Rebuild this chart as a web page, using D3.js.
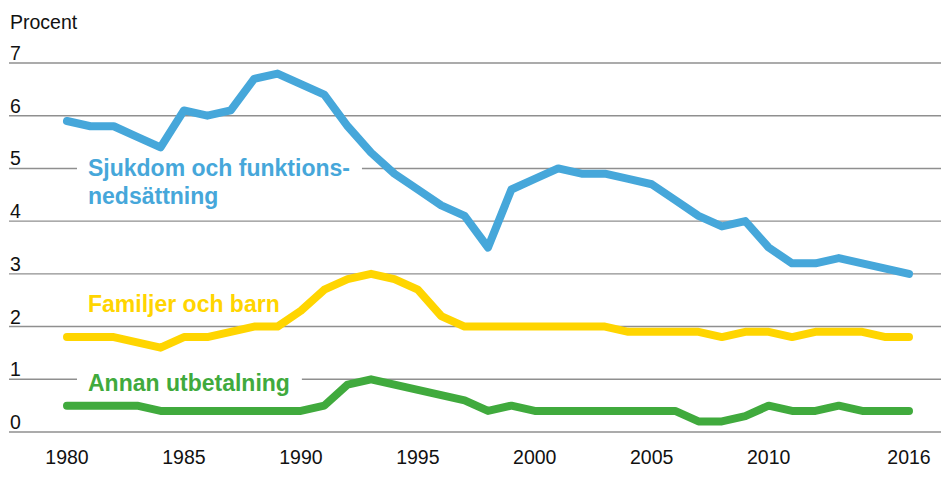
<!DOCTYPE html>
<html>
<head>
<meta charset="utf-8">
<script src="https://cdn.jsdelivr.net/npm/d3@7"></script>
<style>
  body { margin: 0; background: #fff; }
  svg text { font-family: "Liberation Sans", Arial, Helvetica, sans-serif; }
</style>
</head>
<body>
<div id="canvas"></div>
<script>
// Andel (procent) per år
let years = d3.range(1980, 2017);

let sjukdom = [5.9, 5.8, 5.8, 5.6, 5.4, 6.1, 6.0, 6.1, 6.7, 6.8,
  6.6, 6.4, 5.8, 5.3, 4.9, 4.6, 4.3, 4.1, 3.5, 4.6,
  4.8, 5.0, 4.9, 4.9, 4.8, 4.7, 4.4, 4.1, 3.9, 4.0,
  3.5, 3.2, 3.2, 3.3, 3.2, 3.1, 3.0];

let familjer = [1.8, 1.8, 1.8, 1.7, 1.6, 1.8, 1.8, 1.9, 2.0, 2.0,
  2.3, 2.7, 2.9, 3.0, 2.9, 2.7, 2.2, 2.0, 2.0, 2.0,
  2.0, 2.0, 2.0, 2.0, 1.9, 1.9, 1.9, 1.9, 1.8, 1.9,
  1.9, 1.8, 1.9, 1.9, 1.9, 1.8, 1.8];

let annan = [0.5, 0.5, 0.5, 0.5, 0.4, 0.4, 0.4, 0.4, 0.4, 0.4,
  0.4, 0.5, 0.9, 1.0, 0.9, 0.8, 0.7, 0.6, 0.4, 0.5,
  0.4, 0.4, 0.4, 0.4, 0.4, 0.4, 0.4, 0.2, 0.2, 0.3,
  0.5, 0.4, 0.4, 0.5, 0.4, 0.4, 0.4];

let yTicks = [0, 1, 2, 3, 4, 5, 6, 7];
let xTicks = [1980, 1985, 1990, 1995, 2000, 2005, 2010, 2016];

let series = [
  { name: ["Sjukdom och funktions-", "nedsättning"], values: sjukdom, color: "#46a7da", labelY: 176, gapTick: 5 },
  { name: ["Familjer och barn"], values: familjer, color: "#ffd500", labelY: 312, gapTick: null },
  { name: ["Annan utbetalning"], values: annan, color: "#40aa3d", labelY: 391, gapTick: 1 }
];

let width = 941, height = 484;

let svg = d3.select("#canvas")
  .append("svg")
  .attr("width", width)
  .attr("height", height);

let x = d3.scaleLinear().domain([1980, 2016]).range([67, 909]);
let y = d3.scaleLinear().domain([0, 7]).range([432, 63]);

// Labels first so the grid can leave gaps around them
let labels = svg.append("g").attr("class", "labels");
series.forEach(s => {
  let t = labels.append("text")
    .attr("x", 88)
    .attr("y", s.labelY)
    .attr("fill", s.color)
    .style("font-size", "23px")
    .style("font-weight", "bold");
  s.name.forEach((line, i) => {
    t.append("tspan").attr("x", 88).attr("dy", i === 0 ? 0 : 28).text(line);
  });
  s.box = t.node().getBBox();
});

// Grid lines
let grid = svg.insert("g", ".labels").attr("class", "grid");
yTicks.forEach(v => {
  let s = series.find(d => d.gapTick === v);
  let segs = [[9, width]];
  if (s) {
    segs = [[9, s.box.x - 11], [s.box.x + s.box.width + 12, width]];
  }
  segs.forEach(seg => {
    grid.append("line")
      .attr("x1", seg[0]).attr("x2", seg[1])
      .attr("y1", y(v)).attr("y2", y(v))
      .attr("stroke", "#8f8f8f")
      .attr("stroke-width", 1.4);
  });
});

// Y axis labels
svg.append("g")
  .selectAll("text")
  .data(yTicks)
  .enter()
  .append("text")
  .attr("x", 10)
  .attr("y", d => y(d) - 3)
  .style("font-size", "19.5px")
  .attr("fill", "#111")
  .text(d => d);

svg.append("text")
  .attr("x", 10)
  .attr("y", 29)
  .style("font-size", "19.5px")
  .attr("fill", "#111")
  .text("Procent");

// X axis labels
svg.append("g")
  .selectAll("text")
  .data(xTicks)
  .enter()
  .append("text")
  .attr("x", d => x(d))
  .attr("y", 464)
  .attr("text-anchor", "middle")
  .style("font-size", "19.5px")
  .attr("fill", "#111")
  .text(d => d);

// Lines
let line = d3.line()
  .x((d, i) => x(years[i]))
  .y(d => y(d));

svg.append("g")
  .selectAll("path")
  .data(series)
  .enter()
  .append("path")
  .attr("d", d => line(d.values))
  .attr("fill", "none")
  .attr("stroke", d => d.color)
  .attr("stroke-width", 8)
  .attr("stroke-linecap", "round")
  .attr("stroke-linejoin", "round");
</script>
</body>
</html>
